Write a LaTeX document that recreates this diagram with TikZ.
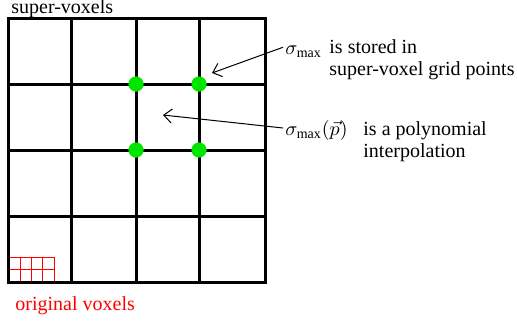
\documentclass[tikz,border=0pt]{standalone}
\usepackage{fontspec}
\setmainfont{LiberationSerif}[Extension=.ttf, UprightFont=*-Regular, ItalicFont=*-Italic, BoldFont=*-Bold]
\usetikzlibrary{positioning,arrows.meta}
\definecolor{dotgreen}{HTML}{00E600}

\begin{document}
\begin{tikzpicture}[
  x=0.5pt, y=-0.5pt,
  font=\fontsize{10}{11}\selectfont,
  coarse/.style={line width=1.5pt, black},
  fine/.style={line width=0.5pt, red},
  gpoint/.style={circle, fill=dotgreen, inner sep=0pt, minimum size=7.6pt},
  arr/.style={-{Straight Barb[length=4pt,width=7pt]}, line width=0.5pt},
  txt/.style={anchor=base west, inner sep=0pt, align=left}
]
\useasboundingbox (0,0) rectangle (517,322);
% ---------------- original voxels ----------------
\foreach \i in {0,...,4}
  \draw[fine] (9+11.25*\i,257) -- (9+11.25*\i,282);
\foreach \y in {257,269.5}
  \draw[fine] (9,\y) -- (54,\y);
% ---------------- super-voxels ----------------
\foreach \x in {71,136,199}
  \draw[coarse] (\x,18) -- (\x,282);
\foreach \y in {84,150,216}
  \draw[coarse] (8,\y) -- (265,\y);
\draw[coarse] (8,18) rectangle (265,282);
\node[gpoint] (g1) at (136,84) {};
\node[gpoint] (g2) at (199,84) {};
\node[gpoint] (g3) at (136,150) {};
\node[gpoint] (g4) at (199,150) {};
\node[txt] (sv) at (11,13) {super-voxels};
\node[txt, text=red] (ov) at (15,310) {original voxels};
% ---------------- labels ----------------
\node[txt] (symA) at (285,54) {$\sigma_{\max}$};
\node[txt] (txtA) at (329,75) {is stored in\\super-voxel grid points};
\node[txt] (symB) at (285,135) {$\sigma_{\max}(\vec{p})$};
\node[txt] (txtB) at (363,157) {is a polynomial\\interpolation};
\coordinate (tipA) at (212,73);
\coordinate (tipB) at (163,115);
\draw[arr] ([shift={(-2,-4)}]symA.west) -- (tipA);
\draw[arr] ([shift={(-2,-2)}]symB.west) -- (tipB);
\end{tikzpicture}
\end{document}
